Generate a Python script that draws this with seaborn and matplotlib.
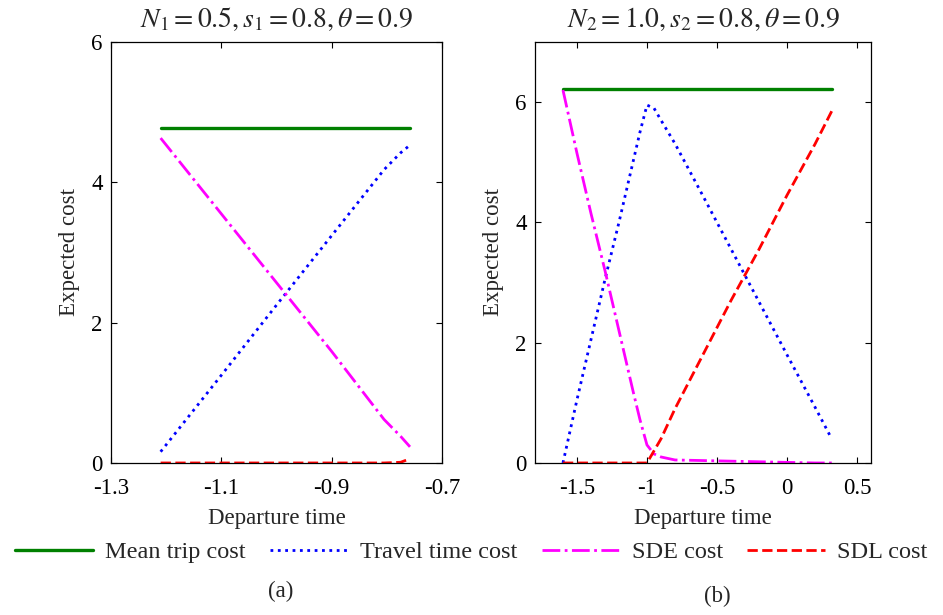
import numpy as np
import pandas as pd
import matplotlib
matplotlib.use("Agg")
import matplotlib.pyplot as plt
import seaborn as sns

# ---------------- data ----------------
series_names = ["Mean trip cost", "Travel time cost", "SDE cost", "SDL cost"]

# panel (a)
x_a = [-1.21, -1.10, -1.00, -0.90, -0.805, -0.775, -0.758]
mean_a = [4.78, 4.78, 4.78, 4.78, 4.78, 4.78, 4.78]
travel_a = [0.16, 1.25, 2.25, 3.24, 4.18, 4.42, 4.53]
sde_a = [4.63, 3.55, 2.57, 1.59, 0.62, 0.38, 0.23]
sdl_a = [0.0, 0.0, 0.0, 0.0, 0.0, 0.01, 0.06]

# panel (b)
x_b = [-1.6, -1.5, -1.4, -1.3, -1.2, -1.1, -1.05, -1.0, -0.95, -0.9,
       -0.8, -0.6, -0.4, -0.2, 0.0, 0.2, 0.32]
mean_b = [6.21] * 17
travel_b = [0.0, 1.05, 2.05, 3.05, 4.0, 5.0, 5.5, 5.95, 5.9, 5.7,
            5.31, 4.44, 3.56, 2.68, 1.80, 0.93, 0.4]
sde_b = [6.2, 5.15, 4.15, 3.2, 2.2, 1.2, 0.72, 0.3, 0.15, 0.1,
         0.05, 0.04, 0.03, 0.02, 0.01, 0.0, 0.0]
sdl_b = [0.0, 0.0, 0.0, 0.0, 0.0, 0.0, 0.0, 0.0, 0.2, 0.4,
         0.9, 1.8, 2.7, 3.55, 4.45, 5.3, 5.85]

titles = [r"$N_1=0.5, s_1=0.8, \theta=0.9$", r"$N_2=1.0, s_2=0.8, \theta=0.9$"]
xticks_a = [-1.3, -1.1, -0.9, -0.7]
xticklabels_a = ["-1.3", "-1.1", "-0.9", "-0.7"]
xticks_b = [-1.5, -1.0, -0.5, 0.0, 0.5]
xticklabels_b = ["-1.5", "-1", "-0.5", "0", "0.5"]
yticks = [0, 2, 4, 6]
yticklabels = ["0", "2", "4", "6"]
panel_tags = ["(a)", "(b)"]

# ---------------- style ----------------
sns.set_theme(style="ticks")
plt.rcParams["font.family"] = ["Liberation Serif", "DejaVu Serif"]
plt.rcParams["mathtext.fontset"] = "stix"
plt.rcParams["axes.unicode_minus"] = False
plt.rcParams["axes.linewidth"] = 0.9
plt.rcParams["xtick.direction"] = "in"
plt.rcParams["ytick.direction"] = "in"

colors = ["#008000", "#0000FF", "#FF00FF", "#FF0000"]
styles = ["-", ":", "-.", "--"]
widths = [2.4, 2.0, 2.0, 2.0]

fig = plt.figure(figsize=(9.43, 6.15), dpi=100)
ax1 = fig.add_axes([0.1177, 0.2472, 0.351, 0.6846])
ax2 = fig.add_axes([0.5673, 0.2472, 0.3563, 0.6846])

panels = [
    (ax1, x_a, [mean_a, travel_a, sde_a, sdl_a], (-1.3, -0.7), (0, 6), xticks_a, xticklabels_a),
    (ax2, x_b, [mean_b, travel_b, sde_b, sdl_b], (-1.8, 0.6), (0, 7), xticks_b, xticklabels_b),
]

for i, (ax, xs, ys, xl, yl, xt, xtl) in enumerate(panels):
    df = pd.DataFrame({"x": xs})
    for name, y in zip(series_names, ys):
        df[name] = y
    for j, name in enumerate(series_names):
        sns.lineplot(data=df, x="x", y=name, ax=ax, color=colors[j],
                     linestyle=styles[j], linewidth=widths[j], legend=False)
    ax.set_xlim(*xl)
    ax.set_ylim(*yl)
    ax.set_xticks(xt)
    ax.set_xticklabels(xtl)
    ax.set_yticks(yticks)
    ax.set_yticklabels(yticklabels)
    ax.tick_params(axis="both", which="both", top=True, right=True,
                   length=4, width=0.8, labelsize=16.5, color="black",
                   labelcolor="black")
    ax.tick_params(axis="x", pad=11)
    ax.tick_params(axis="y", pad=6)
    for sp in ax.spines.values():
        sp.set_visible(True)
        sp.set_color("black")
    ax.set_xlabel("Departure time", fontsize=16.5, labelpad=6)
    ax.set_ylabel("Expected cost", fontsize=16.5, labelpad=8)
    ax.set_title(titles[i], fontsize=20, pad=11)
    ax.grid(False)

handles = ax1.get_lines()[:4]
fig.legend(handles, series_names, loc="center", bbox_to_anchor=(0.5, 1 - 552 / 615),
           ncol=4, frameon=False, fontsize=17.5, handlelength=3.2,
           handletextpad=0.5, columnspacing=1.0, borderaxespad=0)

fig.text(281 / 943, 1 - 591 / 615, panel_tags[0], ha="center", va="center", fontsize=16.5)
fig.text(717 / 943, 1 - 596 / 615, panel_tags[1], ha="center", va="center", fontsize=16.5)

fig.savefig("out.png", dpi=100)
